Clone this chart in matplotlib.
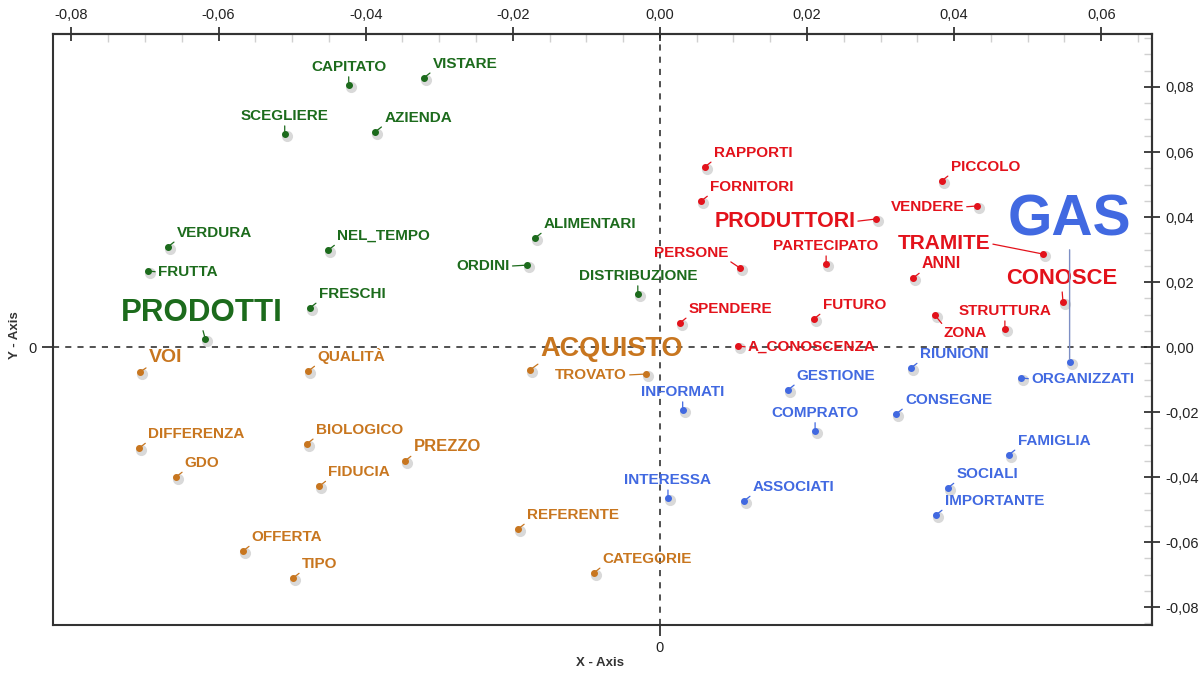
import matplotlib.pyplot as plt
import matplotlib.transforms as mtransforms
from matplotlib.ticker import MultipleLocator, FuncFormatter

plt.rcParams['font.family'] = ['Liberation Sans', 'DejaVu Sans']

# --- data (coordinates) ---
green_words = ["CAPITATO", "VISTARE", "SCEGLIERE", "AZIENDA", "VERDURA", "FRUTTA",
               "NEL_TEMPO", "FRESCHI", "PRODOTTI", "ALIMENTARI", "ORDINI", "DISTRIBUZIONE"]
green_x = [-0.0423, -0.0321, -0.0510, -0.0387, -0.0669, -0.0696,
           -0.0451, -0.0476, -0.0618, -0.0170, -0.0181, -0.0030]
green_y = [0.0806, 0.0828, 0.0655, 0.0662, 0.0308, 0.0234,
           0.0298, 0.0120, 0.0025, 0.0335, 0.0252, 0.0163]

red_words = ["RAPPORTI", "FORNITORI", "PRODUTTORI", "PERSONE", "PARTECIPATO", "PICCOLO",
             "VENDERE", "TRAMITE", "ANNI", "CONOSCE", "STRUTTURA", "ZONA",
             "SPENDERE", "FUTURO", "A_CONOSCENZA"]
red_x = [0.0061, 0.0056, 0.0294, 0.0109, 0.0226, 0.0383,
         0.0431, 0.0521, 0.0344, 0.0548, 0.0469, 0.0374,
         0.0027, 0.0209, 0.0106]
red_y = [0.0554, 0.0449, 0.0394, 0.0243, 0.0255, 0.0511,
         0.0434, 0.0286, 0.0212, 0.0138, 0.0055, 0.0098,
         0.0074, 0.0086, 0.0003]

blue_words = ["GAS", "RIUNIONI", "ORGANIZZATI", "GESTIONE", "INFORMATI", "CONSEGNE",
              "COMPRATO", "FAMIGLIA", "SOCIALI", "IMPORTANTE", "INTERESSA", "ASSOCIATI"]
blue_x = [0.0557, 0.0341, 0.0491, 0.0174, 0.0031, 0.0321,
          0.0211, 0.0474, 0.0391, 0.0375, 0.0011, 0.0114]
blue_y = [-0.0046, -0.0065, -0.0095, -0.0132, -0.0194, -0.0206,
          -0.0258, -0.0332, -0.0434, -0.0517, -0.0465, -0.0474]

orange_words = ["ACQUISTO", "VOI", "QUALITÀ", "TROVATO", "DIFFERENZA", "BIOLOGICO",
                "PREZZO", "GDO", "FIDUCIA", "REFERENTE", "OFFERTA", "TIPO", "CATEGORIE"]
orange_x = [-0.0177, -0.0707, -0.0478, -0.0019, -0.0708, -0.0480,
            -0.0347, -0.0658, -0.0463, -0.0193, -0.0567, -0.0499, -0.0090]
orange_y = [-0.0071, -0.0077, -0.0074, -0.0083, -0.0311, -0.0298,
            -0.0351, -0.0400, -0.0428, -0.0560, -0.0628, -0.0711, -0.0695]

x_ticks = [-0.08, -0.06, -0.04, -0.02, 0.0, 0.02, 0.04, 0.06]
y_ticks = [-0.08, -0.06, -0.04, -0.02, 0.0, 0.02, 0.04, 0.06, 0.08]

# --- label layout ---
# kind -> (offset in pixels, ha, relpos of leader on the text box)
kinds = {
    "ur": ((9, 10), "left", (0, 0)),
    "u": ((0, 14), "center", (0.5, 0)),
    "r": ((10, -5), "left", (0, 0.5)),
    "l": ((-17, -5), "right", (1, 0.5)),
    "ul": ((-12, 11), "right", (1, 0)),
    "dr": ((9, -22), "left", (0, 1)),
}
place = {"CAPITATO": "u", "SCEGLIERE": "u", "FRUTTA": "r", "PRODOTTI": "u", "ORDINI": "l",
         "DISTRIBUZIONE": "u", "PRODUTTORI": "l", "PERSONE": "ul", "PARTECIPATO": "u",
         "VENDERE": "l", "TRAMITE": "l", "CONOSCE": "u", "STRUTTURA": "u", "ZONA": "dr",
         "A_CONOSCENZA": "r", "GAS": "u", "ORGANIZZATI": "r", "INFORMATI": "u",
         "COMPRATO": "u", "INTERESSA": "u", "TROVATO": "l"}
offsets = {"PRODOTTI": (-3, 18), "GAS": (0, 127), "PRODUTTORI": (-21, -8), "TRAMITE": (-53, 5),
           "CONOSCE": (-1, 18), "ACQUISTO": (11, 14), "VENDERE": (-13, -5), "TROVATO": (-19, -5)}
sizes = {"GAS": 41, "PRODOTTI": 22.5, "ACQUISTO": 19.5, "PRODUTTORI": 15.5, "TRAMITE": 15,
         "CONOSCE": 15.8, "VOI": 14, "PREZZO": 12, "ANNI": 11.5}

groups = [
    (green_words, green_x, green_y, "#1c6b1c"),
    (red_words, red_x, red_y, "#e3121b"),
    (blue_words, blue_x, blue_y, "#4169e1"),
    (orange_words, orange_x, orange_y, "#c8761f"),
]

fig = plt.figure(figsize=(12.03, 6.73), dpi=100)
ax = fig.add_axes([53 / 1203, 48 / 673, 1099 / 1203, 591 / 673])
ax.set_xlim(-0.0825, 0.0669)
ax.set_ylim(-0.0855, 0.0963)

ax.axhline(0, color="#222222", lw=1.1, ls=(0, (4, 4)), zorder=1)
ax.axvline(0, color="#222222", lw=1.1, ls=(0, (4, 4)), zorder=1)

shadow = mtransforms.offset_copy(ax.transData, fig=fig, x=2, y=-2, units="dots")

for words, xs, ys, col in groups:
    ax.plot(xs, ys, "o", ms=7, color="#d9d9d9", transform=shadow, zorder=2)
    ax.plot(xs, ys, "o", ms=4, color=col, zorder=4)
    for w, x, y in zip(words, xs, ys):
        k = place.get(w, "ur")
        off, ha, rel = kinds[k]
        off = offsets.get(w, off)
        lc = "#7d8fc4" if w == "GAS" else col
        ax.annotate(w, (x, y), xytext=off, textcoords="offset pixels",
                    ha=ha, va="baseline", fontsize=sizes.get(w, 11),
                    fontweight="bold", color=col, zorder=5,
                    arrowprops=dict(arrowstyle="-", color=lc, lw=1.0 if w == "GAS" else 0.9,
                                    relpos=rel, shrinkA=0, shrinkB=2))

fmt = FuncFormatter(lambda v, p: f"{v:.2f}".replace(".", ","))

# bottom / left: only the zero tick
ax.set_xticks([0])
ax.set_xticklabels(["0"])
ax.set_yticks([0])
ax.set_yticklabels(["0"])
ax.tick_params(direction="out", length=8, width=1.2, labelsize=10.5, colors="#222222")

top = ax.secondary_xaxis("top")
top.set_xticks(x_ticks)
top.xaxis.set_major_formatter(fmt)
top.xaxis.set_minor_locator(MultipleLocator(0.005))
top.tick_params(which="major", direction="inout", length=10, width=1.2, labelsize=10.5,
                colors="#222222")
top.tick_params(which="minor", direction="in", length=6, width=1, color="#d0d0d0")

right = ax.secondary_yaxis("right")
right.set_yticks(y_ticks)
right.yaxis.set_major_formatter(fmt)
right.yaxis.set_minor_locator(MultipleLocator(0.005))
right.tick_params(which="major", direction="inout", length=12, width=1.2, labelsize=10.5,
                  colors="#222222")
right.tick_params(which="minor", direction="in", length=6, width=1, color="#d0d0d0")

for a in (ax, top, right):
    for s in a.spines.values():
        s.set_color("#333333")
        s.set_linewidth(1.5)

fig.text(600 / 1203, 1 - 663 / 673, "X - Axis", ha="center", va="center",
         fontsize=9.5, fontweight="bold", color="#333333")
fig.text(15 / 1203, 1 - 335 / 673, "Y - Axis", ha="center", va="center", rotation=90,
         fontsize=9.5, fontweight="bold", color="#333333")

fig.savefig("out.png", dpi=100)
